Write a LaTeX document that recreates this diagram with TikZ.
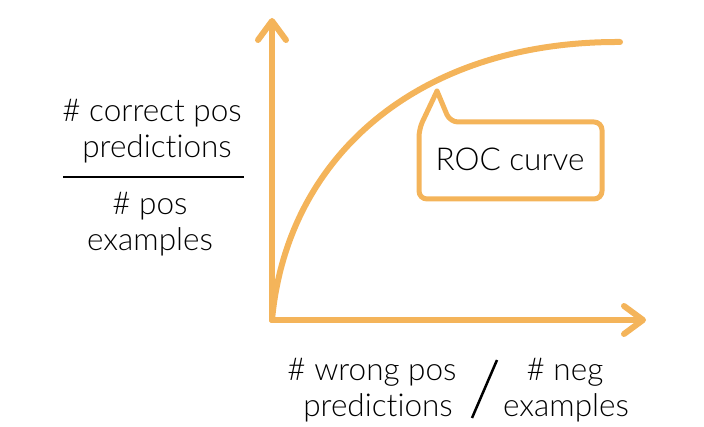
\documentclass[tikz,border=0pt]{standalone}
\usepackage{fontspec}
\setmainfont{Lato}[UprightFont=* Light,Ligatures=NoCommon]
\usepackage{tikz}
\usetikzlibrary{arrows.meta}
\definecolor{rocorange}{RGB}{244,180,90}

\begin{document}
\begin{tikzpicture}[x=1pt,y=-1pt,
    axis/.style={rocorange,line width=6pt,line cap=round,line join=round},
    axistip/.style={-{Straight Barb[length=19pt,width=28pt,line cap=round,line join=round]}},
    lbl/.style={anchor=base,inner sep=0pt,font=\fontsize{31.5}{38}\selectfont}]
    \useasboundingbox (0,0) rectangle (704,427);
    % axes
    \coordinate (origin) at (272,320);
    \coordinate (ytop) at (272,18);
    \coordinate (xend) at (646,320);
    \draw[axis,axistip](origin)--(ytop);
    \draw[axis,axistip](origin)--(xend);
    % curve
    \coordinate (curveend) at (620,42);
    \draw[axis](origin) .. controls (287,155) and (420,41) .. (curveend);
    % callout
    \draw[axis,line width=5pt,rounded corners=8pt](437,91)--(450,122)--(602,122)--(602,199)--(419,199)--(419,129)--(437,91);
    \node[lbl] (roc) at (510,171){ROC curve};
    % y label
    \node[lbl] (ynumA) at (152,122){\# correct pos};
    \node[lbl] (ynumB) at (157,158){predictions};
    \coordinate (ruleL) at (63,177);
    \coordinate (ruleR) at (244,177);
    \draw[black,line width=2.5pt](ruleL)--(ruleR);
    \node[lbl] (ydenA) at (150,215){\# pos};
    \node[lbl] (ydenB) at (150,251){examples};
    % x label
    \node[lbl] (xnumA) at (372,381){\# wrong pos};
    \node[lbl] (xnumB) at (378,417){predictions};
    \coordinate (slashT) at (497,360);
    \coordinate (slashB) at (472,418);
    \draw[black,line width=2.5pt](slashT)--(slashB);
    \node[lbl] (xdenA) at (565,381){\# neg};
    \node[lbl] (xdenB) at (566,417){examples};
\end{tikzpicture}
\end{document}
